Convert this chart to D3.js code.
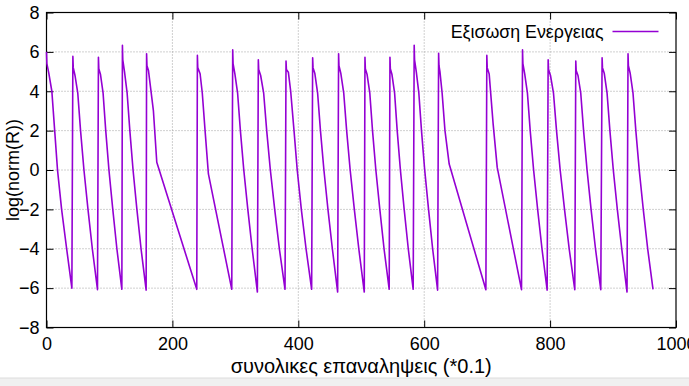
<!DOCTYPE html>
<html>
<head>
<meta charset="utf-8">
<script src="https://cdn.jsdelivr.net/npm/d3@7"></script>
<style>
  html, body { margin: 0; padding: 0; background: #fff; }
  text { font-family: "Liberation Sans", Arial, sans-serif; }
</style>
</head>
<body>
<div class="svg-container"></div>
<script>
var width = 689;
var height = 386;

// x tics / y tics
const xTicks = [0, 200, 400, 600, 800, 1000];
const yTicks = [-8, -6, -4, -2, 0, 2, 4, 6, 8];

const xTitle = "συνολικες επαναληψεις (*0.1)";
const yTitle = "log(norm(R))";
const seriesName = "Εξισωση Ενεργειας";

// συνολικες επαναληψεις (*0.1)
const iterations = [
  0, 0.6, 3.5, 8.5, 13, 17.5, 24, 32, 40.3,
  41.9, 42.5, 45.3, 49.7, 54.1, 59.5, 65.9, 72.8, 81.0,
  82.5, 83.1, 85.8, 89.9, 94.1, 99.2, 105.3, 111.8, 119.7,
  120.6, 121.2, 123.9, 128.1, 132.4, 137.5, 143.6, 150.2, 158.3,
  159.0, 159.6, 162.0, 169.8, 175.2, 238.7,
  239.7, 240.3, 244.0, 247.5, 251.9, 257.2, 294.3,
  295.8, 296.4, 299.2, 303.6, 308.0, 313.4, 319.8, 326.7, 335.0,
  336.5, 337.1, 340.2, 345.0, 349.8, 355.6, 362.5, 369.9, 378.9,
  380.5, 381.1, 384.2, 387.9, 393.2, 398.3, 404.8, 412.3, 421.2,
  422.8, 423.4, 426.3, 430.7, 435.2, 440.7, 447.1, 454.1, 462.5,
  464.0, 464.6, 467.6, 472.2, 476.8, 482.4, 489.0, 496.1, 504.8,
  505.9, 506.5, 509.3, 513.6, 517.9, 523.2, 529.5, 536.2, 544.4,
  545.6, 546.2, 548.8, 553.0, 557.1, 562.2, 568.2, 574.7, 582.5,
  584.1, 584.7, 587.4, 591.5, 595.7, 600.8, 606.9, 613.4, 621.3,
  622.9, 623.5, 625.0, 628.5, 633.0, 639.7, 698.0,
  699.5, 700.1, 703.2, 709.5, 716.0, 754.6,
  756.2, 756.8, 759.6, 764.0, 768.4, 773.8, 780.2, 787.1, 795.3,
  796.9, 797.5, 800.6, 805.4, 810.2, 816.0, 822.9, 830.3, 839.2,
  840.8, 841.4, 844.3, 848.7, 853.2, 858.7, 865.1, 872.1, 880.5,
  882.6, 883.2, 886.1, 890.5, 895.0, 900.4, 906.8, 913.8, 922.2,
  923.8, 924.4, 927.3, 931.7, 936.2, 941.6, 948.0, 955.0, 963.5
];

// log(norm(R))
const logNormR = [
  6.0, 5.4, 4.95, 4.0, 2.0, 0.0, -2.0, -4.0, -6.0,
  5.77, 5.2, 4.8, 3.9, 2.0, 0.0, -2.0, -4.0, -6.08,
  5.73, 5.15, 4.85, 3.9, 2.0, 0.0, -2.0, -4.0, -6.06,
  6.33, 5.6, 5.0, 3.9, 2.0, 0.0, -2.0, -4.0, -6.1,
  5.9, 5.3, 5.05, 3.02, 0.39, -6.06,
  5.82, 5.2, 4.89, 3.9, 2.0, -0.2, -6.06,
  6.1, 5.4, 4.9, 3.9, 2.0, 0.0, -2.0, -4.0, -6.2,
  5.6, 5.1, 4.8, 3.9, 2.0, 0.0, -2.0, -4.0, -6.06,
  5.53, 5.1, 4.97, 4.0, 2.0, 0.0, -2.0, -4.0, -6.06,
  5.7, 5.2, 4.9, 3.9, 2.0, 0.0, -2.0, -4.0, -6.2,
  5.9, 5.3, 4.9, 3.9, 2.0, 0.0, -2.0, -4.0, -6.2,
  5.73, 5.15, 4.85, 3.9, 2.0, 0.0, -2.0, -4.0, -6.06,
  5.73, 5.15, 4.85, 3.9, 2.0, 0.0, -2.0, -4.0, -6.06,
  6.33, 5.6, 5.0, 3.9, 2.0, 0.0, -2.0, -4.0, -6.1,
  5.93, 5.3, 5.0, 3.9, 2.0, 0.3, -6.08,
  5.82, 5.2, 4.88, 2.34, 0.13, -6.08,
  6.1, 5.4, 4.9, 3.9, 2.0, 0.0, -2.0, -4.0, -6.1,
  5.6, 5.1, 4.8, 3.9, 2.0, 0.0, -2.0, -4.0, -6.08,
  5.53, 5.05, 4.8, 3.9, 2.0, 0.0, -2.0, -4.0, -6.08,
  5.7, 5.2, 4.9, 3.9, 2.0, 0.0, -2.0, -4.0, -6.2,
  5.9, 5.3, 4.9, 3.9, 2.0, 0.0, -2.0, -4.0, -6.06
];

const data = iterations.map((x, i) => ({ x: x, y: logNormR[i] }));

const margin = { top: 12.5, right: 13, bottom: 58.5, left: 46.5 };
const chartWidth = width - margin.left - margin.right;
const chartHeight = height - margin.top - margin.bottom;

const svg = d3.select(".svg-container")
  .append("svg")
  .attr("width", width)
  .attr("height", height);

// grey strip at the bottom of the window
svg.append("rect")
  .attr("x", 0).attr("y", 378)
  .attr("width", width).attr("height", height - 378)
  .attr("fill", "#f0f0f0");
svg.append("line")
  .attr("x1", 0).attr("x2", width)
  .attr("y1", 378).attr("y2", 378)
  .attr("stroke", "#dcdcdc");

const xScale = d3.scaleLinear().domain([0, 1000]).range([0, chartWidth]);
const yScale = d3.scaleLinear().domain([-8, 8]).range([chartHeight, 0]);

const inner = svg.append("g")
  .attr("transform", `translate(${margin.left},${margin.top})`);

// grid
inner.append("g")
  .selectAll("line")
  .data(xTicks.slice(1, -1))
  .join("line")
  .attr("x1", d => xScale(d)).attr("x2", d => xScale(d))
  .attr("y1", 0).attr("y2", chartHeight)
  .attr("stroke", "#a0a0a0")
  .attr("stroke-dasharray", "1,2");

inner.append("g")
  .selectAll("line")
  .data(yTicks.slice(1, -1))
  .join("line")
  .attr("x1", 0).attr("x2", chartWidth)
  .attr("y1", d => yScale(d)).attr("y2", d => yScale(d))
  .attr("stroke", "#a0a0a0")
  .attr("stroke-dasharray", "1,2");

// axes (ticks inward, mirrored like gnuplot)
const tickLen = 7;
const fmt = d3.format("d");
const xAxisB = inner.append("g")
  .attr("transform", `translate(0,${chartHeight})`)
  .call(d3.axisBottom(xScale).tickValues(xTicks).tickFormat(fmt).tickSizeInner(-tickLen).tickSizeOuter(0).tickPadding(10));
const xAxisT = inner.append("g")
  .call(d3.axisTop(xScale).tickValues(xTicks).tickSizeInner(-tickLen).tickSizeOuter(0).tickFormat(""));
const yAxisL = inner.append("g")
  .call(d3.axisLeft(yScale).tickValues(yTicks).tickFormat(fmt).tickSizeInner(-tickLen).tickSizeOuter(0).tickPadding(7));
const yAxisR = inner.append("g")
  .attr("transform", `translate(${chartWidth},0)`)
  .call(d3.axisRight(yScale).tickValues(yTicks).tickSizeInner(-tickLen).tickSizeOuter(0).tickFormat(""));

[xAxisB, xAxisT, yAxisL, yAxisR].forEach(a => {
  a.select(".domain").remove();
  a.selectAll("line").attr("stroke", "#000");
  a.selectAll("text")
    .attr("fill", "#000")
    .style("font-size", "18px");
});

// border
inner.append("rect")
  .attr("width", chartWidth)
  .attr("height", chartHeight)
  .attr("fill", "none")
  .attr("stroke", "#000")
  .attr("stroke-width", 1.2);

// data line
const line = d3.line()
  .x(d => xScale(d.x))
  .y(d => yScale(d.y));

inner.append("path")
  .datum(data)
  .attr("d", line)
  .attr("fill", "none")
  .attr("stroke", "#9400d3")
  .attr("stroke-width", 1.6)
  .attr("stroke-linejoin", "round");

// legend
inner.append("text")
  .attr("x", 557)
  .attr("y", 19)
  .attr("dy", "0.35em")
  .attr("text-anchor", "end")
  .style("font-size", "17.8px")
  .text(seriesName);
inner.append("line")
  .attr("x1", 566).attr("x2", 612)
  .attr("y1", 19).attr("y2", 19)
  .attr("stroke", "#9400d3")
  .attr("stroke-width", 1.6);

// titles
svg.append("text")
  .attr("x", margin.left + chartWidth / 2)
  .attr("y", 366)
  .attr("dy", "0.35em")
  .attr("text-anchor", "middle")
  .style("font-size", "20px")
  .text(xTitle);

svg.append("text")
  .attr("transform", `translate(13,${margin.top + chartHeight / 2}) rotate(-90)`)
  .attr("dy", "0.35em")
  .attr("text-anchor", "middle")
  .style("font-size", "18px")
  .text(yTitle);
</script>
</body>
</html>
